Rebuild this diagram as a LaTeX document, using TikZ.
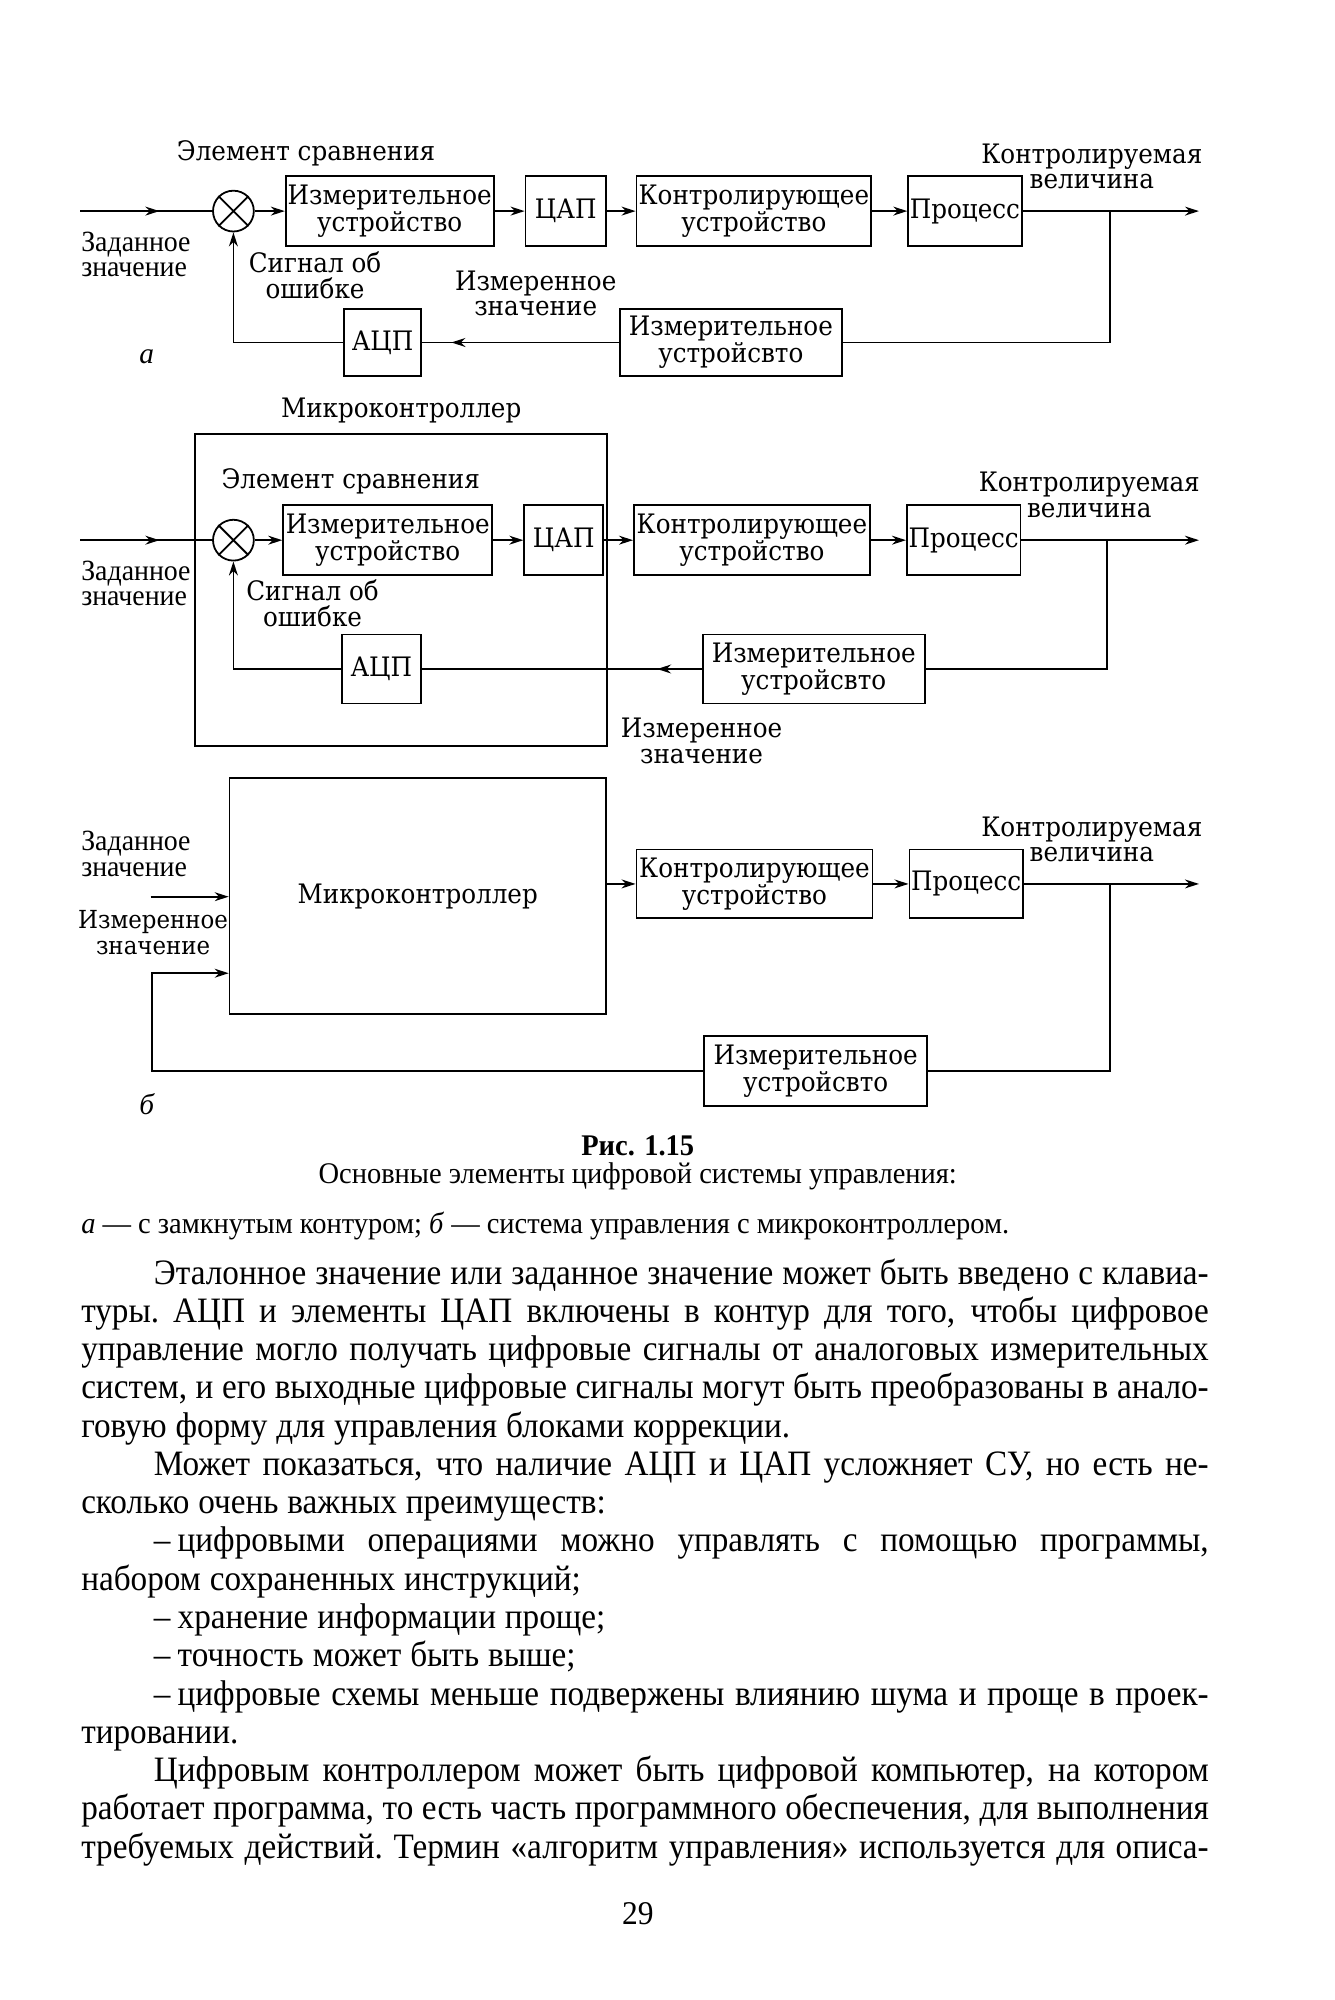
\documentclass[tikz,border=0pt]{standalone}
\usepackage{fontspec}
\setmainfont{Liberation Serif}
\newfontfamily\figfont[FakeStretch=0.92]{DejaVu Serif}
\newfontfamily\narrowfont[FakeStretch=0.95]{Liberation Serif}
\newfontfamily\bodyfont[FakeStretch=0.93]{Liberation Serif}
\usetikzlibrary{arrows.meta, positioning, calc, decorations.markings}

\begin{document}
\begin{tikzpicture}[x=1pt, y=-1pt, line width=1.4pt,
    >={Stealth[length=11pt,width=7pt]},
    blk/.style={draw, inner sep=1pt, minimum height=55pt, align=center,
      font=\figfont\fontsize{21}{19}\selectfont},
    lbl/.style={inner sep=0pt, align=center, font=\figfont\fontsize{21}{20}\selectfont},
    setpt/.style={inner sep=0pt, align=left, anchor=north west,
      font=\narrowfont\fontsize{23}{20}\selectfont},
    summer/.style={draw, circle, minimum size=32pt, inner sep=0pt},
    tag/.style={font=\itshape\fontsize{23}{23}\selectfont},
    midarr/.style={postaction={decorate},
      decoration={markings, mark=at position #1 with {\arrow{>}}}},
    capt/.style={inner sep=0pt, font=\narrowfont\fontsize{23.5}{24}\selectfont}]
  \path[fill=white] (0,0) rectangle (1046,1568);

  % (a) closed loop
  \coordinate (inA) at (63,165.5);
  \node[summer] (sumA) at (183,165.5) {};
  \node[blk, minimum width=163pt] (measA) at (305.5,165.5) {Измерительное\\устройство};
  \node[blk, minimum width=63pt] (dacA) at (443.5,165.5) {ЦАП};
  \node[blk, minimum width=184pt] (ctrlA) at (591,165.5) {Контролирующее\\устройство};
  \node[blk, minimum width=89pt] (procA) at (756.5,165.5) {Процесс};
  \node[blk, minimum width=60pt, minimum height=53pt] (adcA) at (300,268.5) {АЦП};
  \node[blk, minimum width=174pt, minimum height=53pt] (sensA) at (573,268.5) {Измерительное\\устройсвто};
  \coordinate (brA) at (870,165.5);
  \coordinate (outA) at (940,165.5);
  \draw[midarr=0.6] (inA) -- (sumA);
  \draw[->] (sumA) -- (measA);
  \draw[->] (measA) -- (dacA);
  \draw[->] (dacA) -- (ctrlA);
  \draw[->] (ctrlA) -- (procA);
  \draw[->] (procA) -- (outA);
  \draw (brA) |- (sensA);
  \draw[midarr=0.85] (sensA) -- (adcA);
  \draw[->] (adcA) -| (sumA);
  \node[lbl] (cmpA) at (240,120) {Элемент сравнения};
  \node[lbl] (cvA) at (856,130.5) {Контролируемая\\величина};
  \node[setpt] (spA) at (63,181) {Заданное\\значение};
  \node[lbl] (errA) at (247,216) {Сигнал об\\ошибке};
  \node[lbl] (mvA) at (420,230) {Измеренное\\значение};
  \node[tag] (tagA) at (115,280) {а};

  % (b) loop inside the microcontroller
  \node[draw, minimum width=323pt, minimum height=245pt, inner sep=0pt] (mcB) at (314.5,462.5) {};
  \node[lbl, above=7pt of mcB] (mcBt) {Микроконтроллер};
  \coordinate (inB) at (63,423.5);
  \node[summer] (sumB) at (183,423.5) {};
  \node[blk, minimum width=164pt] (measB) at (304,423.5) {Измерительное\\устройство};
  \node[blk, minimum width=62pt] (dacB) at (442,423.5) {ЦАП};
  \node[blk, minimum width=185pt] (ctrlB) at (589.5,423.5) {Контролирующее\\устройство};
  \node[blk, minimum width=89pt] (procB) at (755.5,423.5) {Процесс};
  \node[blk, minimum width=62pt, minimum height=54pt] (adcB) at (299,524.5) {АЦП};
  \node[blk, minimum width=174pt, minimum height=54pt] (sensB) at (638,524.5) {Измерительное\\устройсвто};
  \coordinate (brB) at (868,423.5);
  \coordinate (outB) at (940,423.5);
  \draw[midarr=0.6] (inB) -- (sumB);
  \draw[->] (sumB) -- (measB);
  \draw[->] (measB) -- (dacB);
  \draw[->] (dacB) -- (ctrlB);
  \draw[->] (ctrlB) -- (procB);
  \draw[->] (procB) -- (outB);
  \draw (brB) |- (sensB);
  \draw[midarr=0.16] (sensB) -- (adcB);
  \draw[->] (adcB) -| (sumB);
  \node[lbl] (cmpB) at (275,377) {Элемент сравнения};
  \node[lbl] (cvB) at (854,388) {Контролируемая\\величина};
  \node[setpt] (spB) at (63,439) {Заданное\\значение};
  \node[lbl] (errB) at (245,473) {Сигнал об\\ошибке};
  \node[lbl] (mvB) at (550,581) {Измеренное\\значение};

  \foreach \s in {sumA,sumB}
    \draw (\s.north west) -- (\s.south east) (\s.north east) -- (\s.south west);

  % (b) microcontroller as one block
  \node[blk, minimum width=295pt, minimum height=185pt] (mcC) at (327.5,702.5) {Микроконтроллер};
  \node[blk, minimum width=185pt, minimum height=54pt] (ctrlC) at (591.5,693) {Контролирующее\\устройство};
  \node[blk, minimum width=89pt, minimum height=54pt] (procC) at (757.5,693) {Процесс};
  \node[blk, minimum width=175pt] (sensC) at (639.5,839.5) {Измерительное\\устройсвто};
  \coordinate (inC) at (118,703);
  \coordinate (fbC) at (119,763);
  \coordinate (brC) at (870,693);
  \coordinate (outC) at (940,693);
  \draw[->] (inC) -- (inC -| mcC.west);
  \draw[->] (sensC) -| (fbC) -- (fbC -| mcC.west);
  \draw[->] (mcC.east |- ctrlC) -- (ctrlC);
  \draw[->] (ctrlC) -- (procC);
  \draw[->] (procC) -- (outC);
  \draw (brC) |- (sensC);
  \node[setpt] (spC) at (63,651) {Заданное\\значение};
  \node[lbl, font=\figfont\fontsize{19.5}{20}\selectfont] (mvC) at (120,731) {Измеренное\\значение};
  \node[lbl] (cvC) at (856,658) {Контролируемая\\величина};
  \node[tag] (tagB) at (115,866) {б};

  % caption
  \node[capt, font=\narrowfont\bfseries\fontsize{23.5}{24}\selectfont] (figno) at (500,898) {Рис. 1.15};
  \node[capt] (figttl) at (500,922) {Основные элементы цифровой системы управления:};
  \node[capt, anchor=west] (figkey) at (63,961) {\textit{а} — с замкнутым контуром; \textit{б} — система управления с микроконтроллером.};

  % running text
  \node[anchor=north west, text width=884pt, inner sep=0pt, align=justify,
    font=\bodyfont\fontsize{28}{30}\selectfont] (body) at (63,986) {%
    \hyphenpenalty=10000 \tolerance=10000
    \spaceskip=0.25em plus 1em minus 0.18em \xspaceskip=\spaceskip
    \parindent=57pt
    \hspace*{57pt}Эталонное значение или заданное значение может быть введено с клавиа-\linebreak
    туры. АЦП и элементы ЦАП включены в контур для того, чтобы цифровое\linebreak
    управление могло получать цифровые сигналы от аналоговых измерительных\linebreak
    систем, и его выходные цифровые сигналы могут быть преобразованы в анало-\linebreak
    говую форму для управления блоками коррекции.\par
    Может показаться, что наличие АЦП и ЦАП усложняет СУ, но есть не-\linebreak
    сколько очень важных преимуществ:\par
    –\hspace{0.2em}цифровыми операциями можно управлять с помощью программы,\linebreak
    набором сохраненных инструкций;\par
    –\hspace{0.2em}хранение информации проще;\par
    –\hspace{0.2em}точность может быть выше;\par
    –\hspace{0.2em}цифровые схемы меньше подвержены влиянию шума и проще в проек-\linebreak
    тировании.\par
    {\parfillskip=0pt Цифровым контроллером может быть цифровой компьютер, на котором\linebreak
    работает программа, то есть часть программного обеспечения, для выполнения\linebreak
    требуемых действий. Термин «алгоритм управления» используется для описа-\par}};
  \node[capt, font=\narrowfont\fontsize{26}{30}\selectfont] (pgno) at (500,1500) {29};
\end{tikzpicture}
\end{document}
